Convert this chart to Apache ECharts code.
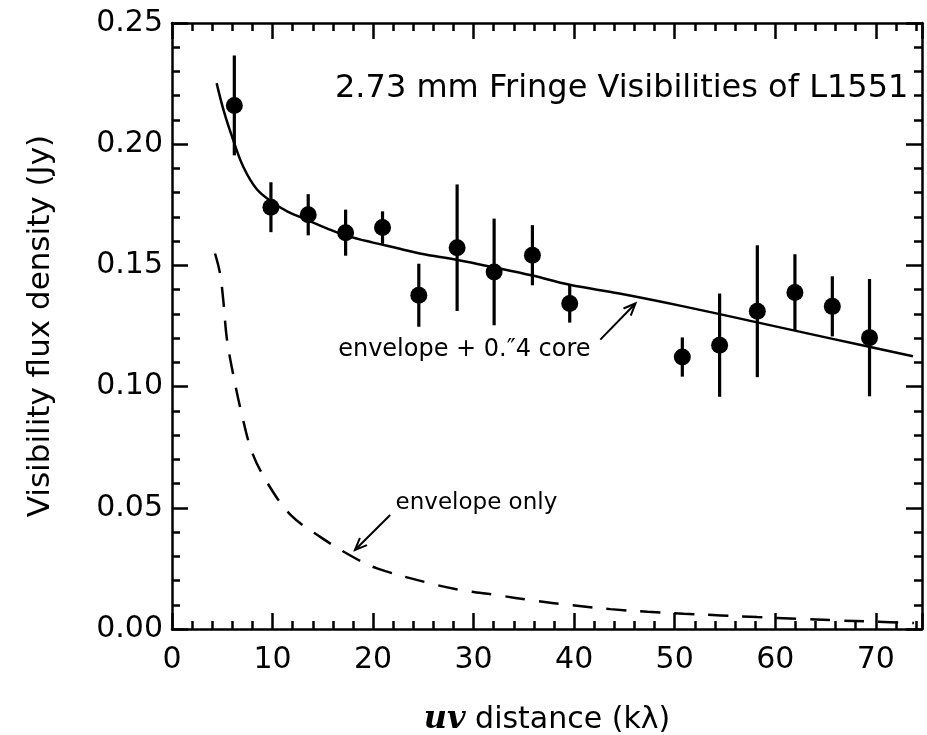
<!DOCTYPE html>
<html>
<head>
<meta charset="utf-8">
<script src="https://cdn.jsdelivr.net/npm/echarts@6/dist/echarts.min.js"></script>
<style>
  html, body { margin: 0; padding: 0; background: #ffffff; }
  #chart { width: 927px; height: 735px; }
</style>
</head>
<body>
<div id="chart"></div>
<script>
// Measured fringe visibilities (uv distance in kλ, flux in Jy, 1σ error)
const uvDist = [6.2, 9.84, 13.55, 17.27, 20.94, 24.55, 28.36, 32.04, 35.85, 39.56, 50.76, 54.47, 58.22, 61.96, 65.68, 69.38];
const flux = [0.216, 0.174, 0.1709, 0.1635, 0.1656, 0.1377, 0.1573, 0.1473, 0.1542, 0.1343, 0.1122, 0.1171, 0.1311, 0.1388, 0.1331, 0.1202];
const fluxErr = [0.0206, 0.0103, 0.0085, 0.0095, 0.0067, 0.013, 0.0261, 0.022, 0.0124, 0.0079, 0.0081, 0.0213, 0.0272, 0.0158, 0.0124, 0.0242];

// Model: envelope plus compact 0.4" core
const coreModelX = [4.44, 5.2, 6.1, 7.1, 8.4, 9.74, 11.5, 13.55, 15.4, 17.27, 20.0, 22.66, 24.65, 28.4, 32.0, 35.85, 39.56, 44.5, 50.76, 58.2, 65.7, 73.7];
const coreModelY = [0.2252, 0.213, 0.2016, 0.1906, 0.1816, 0.1768, 0.1722, 0.1686, 0.1653, 0.1624, 0.1594, 0.1569, 0.1549, 0.1522, 0.1492, 0.1458, 0.1420, 0.1384, 0.1332, 0.1265, 0.1197, 0.1125];

// Model: envelope only
const envModelX = [4.28, 4.78, 5.11, 5.45, 6.11, 6.94, 8.0, 9.66, 11.82, 14.74, 17.96, 20.39, 25.7, 28.7, 32.3, 36.0, 39.6, 43.6, 47.3, 50.9, 54.6, 58.2, 62.2, 65.9, 69.9, 73.8];
const envModelY = [0.1549, 0.1466, 0.1353, 0.1200, 0.1045, 0.0886, 0.0725, 0.0591, 0.047, 0.038, 0.0298, 0.025, 0.0188, 0.0161, 0.014, 0.0117, 0.0099, 0.0082, 0.0071, 0.0063, 0.0056, 0.0049, 0.0042, 0.0036, 0.003, 0.0025];

// Axis ranges and tick labels
const xRange = [0, 74.6];
const xTickLabels = ['0', '10', '20', '30', '40', '50', '60', '70'];
const yRange = [0, 0.25];
const yTickLabels = ['0.00', '0.05', '0.10', '0.15', '0.20', '0.25'];

// Annotation text and arrows (tail x, tail y, head x, head y in data units)
const noteCoreText = 'envelope + 0.\u20334 core';
const noteCorePos = [29.08, 0.115];
const noteEnvText = 'envelope only';
const noteEnvPos = [30.28, 0.0519];
const arrowTailX = [42.6, 21.7];
const arrowTailY = [0.1194, 0.047];
const arrowHeadX = [46.1, 18.2];
const arrowHeadY = [0.1343, 0.0326];

const titleText = '2.73 mm Fringe Visibilities of L1551';

const FONT = 'DejaVu Sans';
const INK = '#000000';

function xLabel(v) {
  const k = Math.round(v / 10);
  return Math.abs(v - k * 10) < 1e-6 ? (xTickLabels[k] || '') : '';
}
function yLabel(v) {
  const k = Math.round(v / 0.05);
  return Math.abs(v - k * 0.05) < 1e-9 ? (yTickLabels[k] || '') : '';
}

// Frame axis: inward major/minor ticks, never snapped to the other axis' zero
function frameAxis(extra) {
  return Object.assign({
    type: 'value',
    splitLine: { show: false },
    axisLine: { show: true, onZero: false, lineStyle: { color: INK, width: 2.5 } },
    axisTick: { show: true, inside: true, length: 16, lineStyle: { color: INK, width: 2.5 } },
    minorTick: { show: true, splitNumber: 5, length: 8, lineStyle: { color: INK, width: 2.5 } },
    minorSplitLine: { show: false }
  }, extra);
}

const chart = echarts.init(document.getElementById('chart'), null, { renderer: 'canvas' });

const errData = uvDist.map((x, i) => [x, flux[i] - fluxErr[i], flux[i] + fluxErr[i]]);
const arrowData = arrowTailX.map((x, i) => [x, arrowTailY[i], arrowHeadX[i], arrowHeadY[i]]);

chart.setOption({
  animation: false,
  backgroundColor: '#ffffff',
  title: {
    text: titleText,
    left: 330,
    top: 68,
    textStyle: { fontFamily: FONT, fontSize: 32, fontWeight: 'normal', color: INK }
  },
  grid: {
    left: 172, right: 5, top: 23, bottom: 106,
    containLabel: false,
    outerBoundsMode: 'none'
  },
  xAxis: [
    frameAxis({
      position: 'bottom',
      min: xRange[0], max: xRange[1], interval: 10,
      name: '{uv|uv} distance (k\u03bb)',
      nameLocation: 'middle',
      nameGap: 75,
      nameTextStyle: {
        fontFamily: FONT, fontSize: 30, color: INK,
        rich: {
          uv: { fontFamily: 'DejaVu Serif', fontStyle: 'italic', fontWeight: 'bold', fontSize: 32, color: INK }
        }
      },
      axisLabel: {
        show: true, margin: 16, formatter: xLabel, showMaxLabel: false,
        fontFamily: FONT, fontSize: 30, color: INK
      }
    }),
    frameAxis({
      position: 'top',
      min: xRange[0], max: xRange[1], interval: 10,
      axisLabel: { show: false }
    })
  ],
  yAxis: [
    frameAxis({
      position: 'left',
      min: yRange[0], max: yRange[1], interval: 0.05,
      name: 'Visibility flux density (Jy)',
      nameLocation: 'middle',
      nameRotate: 90,
      nameGap: 116,
      nameTextStyle: { fontFamily: FONT, fontSize: 31, color: INK },
      axisLabel: {
        show: true, margin: 9, formatter: yLabel,
        fontFamily: FONT, fontSize: 30, color: INK
      }
    }),
    frameAxis({
      position: 'right',
      min: yRange[0], max: yRange[1], interval: 0.05,
      axisLabel: { show: false }
    })
  ],
  series: [
    {
      name: 'envelope + core',
      type: 'line',
      xAxisIndex: 0, yAxisIndex: 0,
      data: coreModelX.map((x, i) => [x, coreModelY[i]]),
      smooth: 0.4,
      symbol: 'none',
      silent: true,
      lineStyle: { color: INK, width: 2.5 },
      z: 3
    },
    {
      name: 'envelope only',
      type: 'line',
      xAxisIndex: 0, yAxisIndex: 0,
      data: envModelX.map((x, i) => [x, envModelY[i]]),
      smooth: 0.35,
      symbol: 'none',
      silent: true,
      lineStyle: { color: INK, width: 2.5, type: [20, 14] },
      z: 3
    },
    {
      // open-headed pointer arrows for the two model labels
      name: 'pointers',
      type: 'custom',
      xAxisIndex: 0, yAxisIndex: 0,
      silent: true,
      data: arrowData,
      renderItem: function (params, api) {
        const a = api.coord([api.value(0), api.value(1)]);
        const b = api.coord([api.value(2), api.value(3)]);
        const ang = Math.atan2(b[1] - a[1], b[0] - a[0]);
        const len = 13, spread = 0.4;
        const h1 = [b[0] - len * Math.cos(ang - spread), b[1] - len * Math.sin(ang - spread)];
        const h2 = [b[0] - len * Math.cos(ang + spread), b[1] - len * Math.sin(ang + spread)];
        return {
          type: 'group',
          children: [
            { type: 'line', shape: { x1: a[0], y1: a[1], x2: b[0], y2: b[1] }, style: { stroke: INK, lineWidth: 2 } },
            { type: 'polyline', shape: { points: [h1, b, h2] }, style: { stroke: INK, lineWidth: 2, fill: null } }
          ]
        };
      },
      z: 4
    },
    {
      name: 'errors',
      type: 'custom',
      xAxisIndex: 0, yAxisIndex: 0,
      silent: true,
      data: errData,
      renderItem: function (params, api) {
        const x = api.value(0);
        const p1 = api.coord([x, api.value(1)]);
        const p2 = api.coord([x, api.value(2)]);
        return {
          type: 'line',
          shape: { x1: p1[0], y1: p1[1], x2: p2[0], y2: p2[1] },
          style: { stroke: INK, lineWidth: 3.2 }
        };
      },
      z: 4
    },
    {
      name: 'visibilities',
      type: 'scatter',
      xAxisIndex: 0, yAxisIndex: 0,
      silent: true,
      data: uvDist.map((x, i) => [x, flux[i]]),
      symbol: 'circle',
      symbolSize: 17,
      itemStyle: { color: INK, opacity: 1 },
      z: 5
    },
    {
      name: 'notes',
      type: 'scatter',
      xAxisIndex: 0, yAxisIndex: 0,
      silent: true,
      symbolSize: 0,
      itemStyle: { opacity: 1 },
      data: [
        { value: noteCorePos, label: { formatter: noteCoreText, fontSize: 24 } },
        { value: noteEnvPos, label: { formatter: noteEnvText, fontSize: 23 } }
      ],
      label: {
        show: true, position: 'inside', align: 'center', verticalAlign: 'middle',
        fontFamily: FONT, fontSize: 23, color: INK, opacity: 1
      },
      z: 6
    }
  ]
});
</script>
</body>
</html>
